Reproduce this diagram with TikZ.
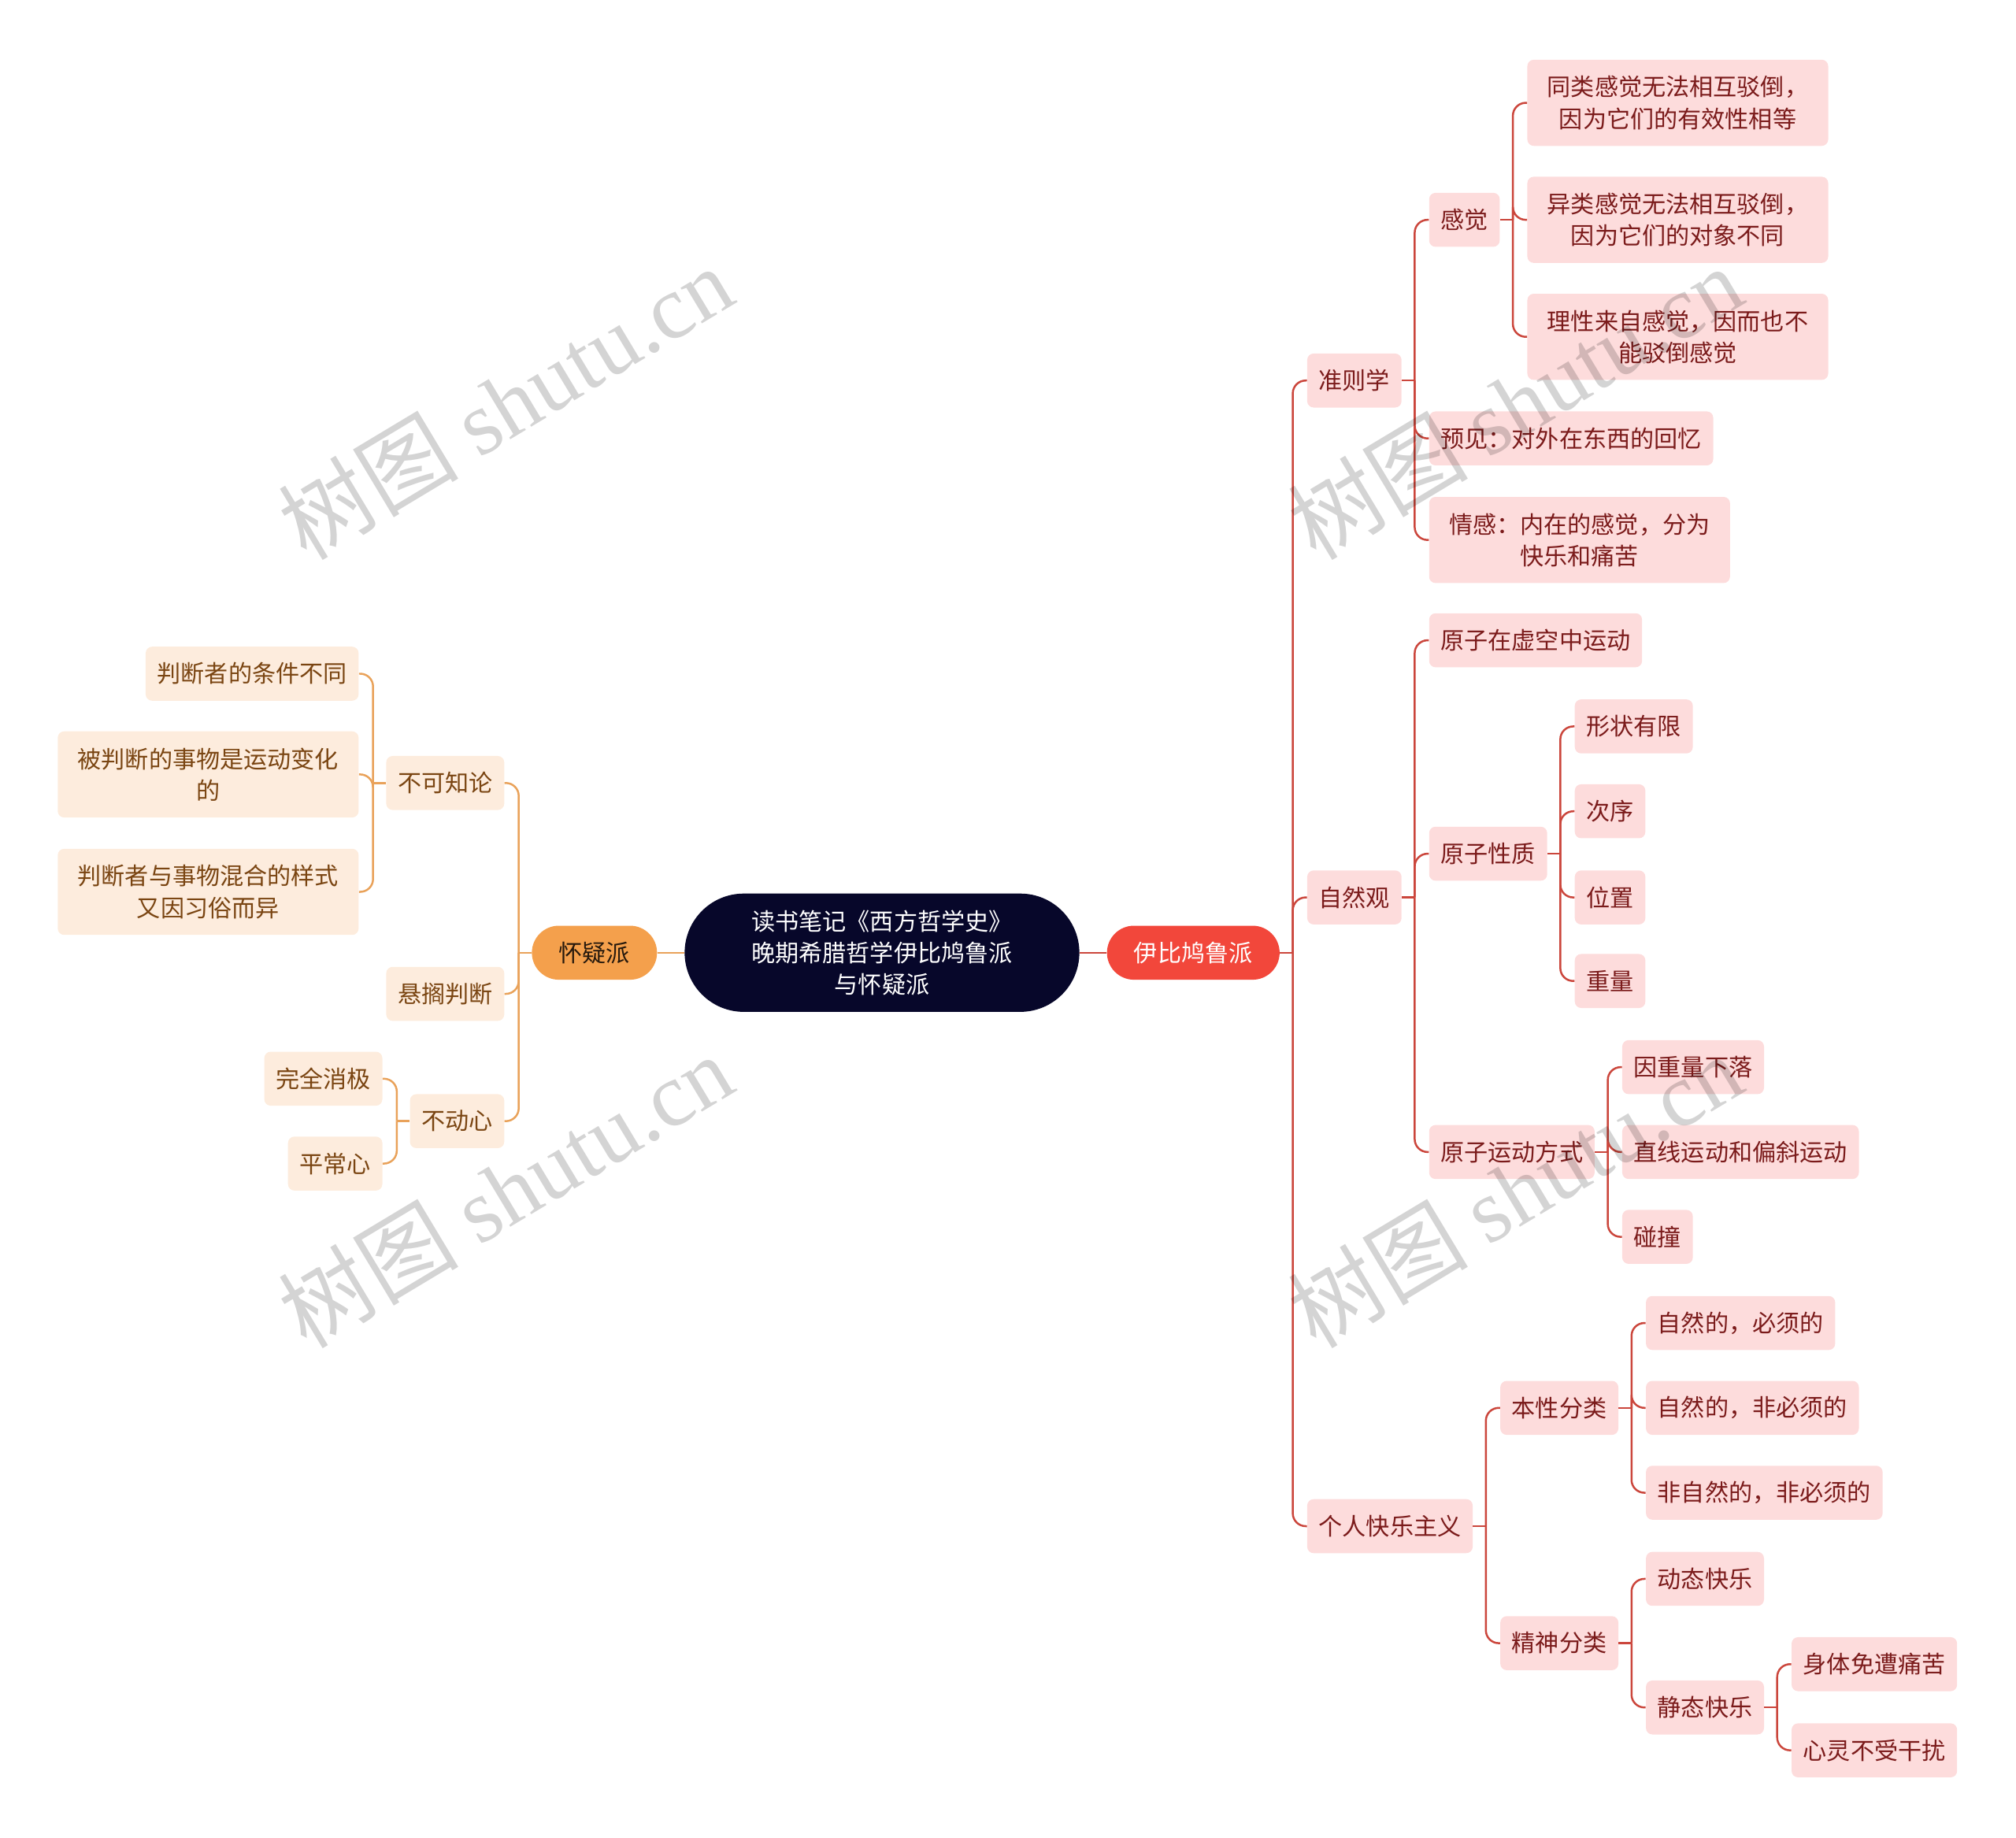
\documentclass[tikz,border=0pt]{standalone}
\usepackage{fontspec}
\setmainfont{Noto Sans CJK SC}
\newfontfamily\wmlatin{Liberation Serif}
\usepackage{xcolor}
\usetikzlibrary{positioning}

\definecolor{rootbg}{HTML}{07072A}
\definecolor{epibg}{HTML}{F2473B}
\definecolor{skpbg}{HTML}{F4A04C}
\definecolor{rbox}{HTML}{FDDCDC}
\definecolor{rtext}{HTML}{7B1B1B}
\definecolor{rline}{HTML}{CB463C}
\definecolor{lbox}{HTML}{FDECDD}
\definecolor{ltext}{HTML}{7A4512}
\definecolor{lline}{HTML}{E9A25A}

\newcommand\mmfont{\fontsize{15.75pt}{21pt}\selectfont}

\tikzset{
  root/.style={
    rectangle, rounded corners=1.38cm, fill=rootbg, text=white,
    minimum width=9.21cm, minimum height=2.76cm,
    align=center, font=\mmfont
  },
  mainR/.style={
    rectangle, rounded corners=0.63cm, fill=epibg, text=white,
    inner xsep=0.63cm, inner ysep=0pt, minimum height=1.26cm,
    font=\mmfont
  },
  mainL/.style={
    mainR, fill=skpbg, text=black!80!brown
  },
  itemR/.style={
    rectangle, rounded corners=0.15cm, fill=rbox, text=rtext,
    inner xsep=0.27cm, inner ysep=0pt, minimum height=1.26cm,
    align=center, font=\mmfont
  },
  itemL/.style={
    itemR, fill=lbox, text=ltext
  },
  wide/.style={minimum width=7.02cm, minimum height=2.01cm},
  rlink/.style={draw=rline, line width=1.3pt, rounded corners=0.3cm},
  llink/.style={draw=lline, line width=1.3pt, rounded corners=0.3cm},
  wmark/.style={text=black, text opacity=0.17, font=\fontsize{60pt}{62pt}\selectfont, rotate=31}
}

\begin{document}
\begin{tikzpicture}[x=0.03cm, y=-0.03cm, node distance=0.63cm]
  \useasboundingbox (0,0) rectangle (1568,1429);

  \node[root] (rt) at (686,741) {读书笔记《西方哲学史》\\晚期希腊哲学伊比鸠鲁派\\与怀疑派};

  \node[mainR, right=of rt] (epi) {伊比鸠鲁派};
  \node[mainL, left=of rt] (skp) {怀疑派};

  % 伊比鸠鲁派
  \node[itemR, right=of epi, yshift=13.35cm] (zzx) {准则学};
  \node[itemR, right=of epi, yshift=1.29cm] (zrg) {自然观};
  \node[itemR, right=of epi, yshift=-13.38cm] (grk) {个人快乐主义};

  \node[itemR, right=of zzx, yshift=3.75cm] (gj) {感觉};
  \node[itemR, right=of zzx, yshift=-1.35cm] (yj) {预见：对外在东西的回忆};
  \node[itemR, wide, right=of zzx, yshift=-3.72cm] (qg) {情感：内在的感觉，分为\\快乐和痛苦};

  \node[itemR, wide, right=of gj, yshift=2.73cm] (gj1) {同类感觉无法相互驳倒，\\因为它们的有效性相等};
  \node[itemR, wide, right=of gj] (gj2) {异类感觉无法相互驳倒，\\因为它们的对象不同};
  \node[itemR, wide, right=of gj, yshift=-2.73cm] (gj3) {理性来自感觉，因而也不\\能驳倒感觉};

  \node[itemR, right=of zrg, yshift=6.0cm] (yz1) {原子在虚空中运动};
  \node[itemR, right=of zrg, yshift=1.02cm] (yz2) {原子性质};
  \node[itemR, right=of zrg, yshift=-5.94cm] (yz3) {原子运动方式};

  \node[itemR, right=of yz2, yshift=2.97cm] (xz1) {形状有限};
  \node[itemR, right=of yz2, yshift=0.99cm] (xz2) {次序};
  \node[itemR, right=of yz2, yshift=-1.02cm] (xz3) {位置};
  \node[itemR, right=of yz2, yshift=-2.97cm] (xz4) {重量};

  \node[itemR, right=of yz3, yshift=1.98cm] (yd1) {因重量下落};
  \node[itemR, right=of yz3] (yd2) {直线运动和偏斜运动};
  \node[itemR, right=of yz3, yshift=-1.98cm] (yd3) {碰撞};

  \node[itemR, right=of grk, yshift=2.76cm] (bx) {本性分类};
  \node[itemR, right=of grk, yshift=-2.73cm] (js) {精神分类};

  \node[itemR, right=of bx, yshift=1.98cm] (bx1) {自然的，必须的};
  \node[itemR, right=of bx] (bx2) {自然的，非必须的};
  \node[itemR, right=of bx, yshift=-1.98cm] (bx3) {非自然的，非必须的};

  \node[itemR, right=of js, yshift=1.5cm] (js1) {动态快乐};
  \node[itemR, right=of js, yshift=-1.5cm] (js2) {静态快乐};

  \node[itemR, right=of js2, yshift=1.01cm] (jt1) {身体免遭痛苦};
  \node[itemR, right=of js2, yshift=-1.0cm] (jt2) {心灵不受干扰};

  % 怀疑派
  \node[itemL, left=of skp, yshift=3.96cm] (bkz) {不可知论};
  \node[itemL, left=of skp, yshift=-0.96cm] (xgpd) {悬搁判断};
  \node[itemL, left=of skp, yshift=-3.93cm] (bdx) {不动心};

  \node[itemL, left=of bkz, yshift=2.55cm] (bk1) {判断者的条件不同};
  \node[itemL, wide, left=of bkz, yshift=0.2cm] (bk2) {被判断的事物是运动变化\\的};
  \node[itemL, wide, left=of bkz, yshift=-2.54cm] (bk3) {判断者与事物混合的样式\\又因习俗而异};

  \node[itemL, left=of bdx, yshift=0.99cm] (bd1) {完全消极};
  \node[itemL, left=of bdx, yshift=-0.99cm] (bd2) {平常心};

  % links
  \draw[rlink] (rt) -- (epi);
  \draw[llink] (rt) -- (skp);

  \draw[rlink] (epi.east) -- ++(10,0);
  \foreach \c in {zzx, zrg, grk}
    \draw[rlink] (epi.east) ++(10,0) |- (\c.west);
  \draw[rlink] (zzx.east) -- ++(10,0);
  \foreach \c in {gj, yj, qg}
    \draw[rlink] (zzx.east) ++(10,0) |- (\c.west);
  \draw[rlink] (gj.east) -- ++(10,0);
  \foreach \c in {gj1, gj2, gj3}
    \draw[rlink] (gj.east) ++(10,0) |- (\c.west);
  \draw[rlink] (zrg.east) -- ++(10,0);
  \foreach \c in {yz1, yz2, yz3}
    \draw[rlink] (zrg.east) ++(10,0) |- (\c.west);
  \draw[rlink] (yz2.east) -- ++(10,0);
  \foreach \c in {xz1, xz2, xz3, xz4}
    \draw[rlink] (yz2.east) ++(10,0) |- (\c.west);
  \draw[rlink] (yz3.east) -- ++(10,0);
  \foreach \c in {yd1, yd2, yd3}
    \draw[rlink] (yz3.east) ++(10,0) |- (\c.west);
  \draw[rlink] (grk.east) -- ++(10,0);
  \foreach \c in {bx, js}
    \draw[rlink] (grk.east) ++(10,0) |- (\c.west);
  \draw[rlink] (bx.east) -- ++(10,0);
  \foreach \c in {bx1, bx2, bx3}
    \draw[rlink] (bx.east) ++(10,0) |- (\c.west);
  \draw[rlink] (js.east) -- ++(10,0);
  \foreach \c in {js1, js2}
    \draw[rlink] (js.east) ++(10,0) |- (\c.west);
  \draw[rlink] (js2.east) -- ++(10,0);
  \foreach \c in {jt1, jt2}
    \draw[rlink] (js2.east) ++(10,0) |- (\c.west);

  \draw[llink] (skp.west) -- ++(-10,0);
  \foreach \c in {bkz, xgpd, bdx}
    \draw[llink] (skp.west) ++(-10,0) |- (\c.east);
  \draw[llink] (bkz.west) -- ++(-10,0);
  \foreach \c in {bk1, bk2, bk3}
    \draw[llink] (bkz.west) ++(-10,0) |- (\c.east);
  \draw[llink] (bdx.west) -- ++(-10,0);
  \foreach \c in {bd1, bd2}
    \draw[llink] (bdx.west) ++(-10,0) |- (\c.east);

  % watermarks
  \node[wmark] (wm1) at (393,313) {树图 {\wmlatin shutu.cn}};
  \node[wmark] (wm2) at (1178,313) {树图 {\wmlatin shutu.cn}};
  \node[wmark] (wm3) at (393,926) {树图 {\wmlatin shutu.cn}};
  \node[wmark] (wm4) at (1178,926) {树图 {\wmlatin shutu.cn}};
\end{tikzpicture}
\end{document}
